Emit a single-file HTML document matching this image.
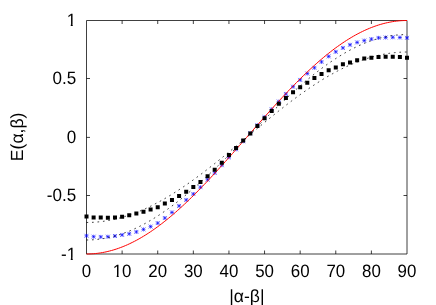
<!DOCTYPE html>
<html><head><meta charset="utf-8"><title>E(alpha,beta)</title>
<style>
html,body{margin:0;padding:0;background:#fff;}
body{width:436px;height:305px;overflow:hidden;position:relative;font-family:"Liberation Sans",sans-serif;}
svg{position:absolute;left:0;top:0;display:block;will-change:transform;}
text{font-family:"Liberation Sans",sans-serif;font-size:17.6px;fill:#000;text-rendering:geometricPrecision;}
</style></head><body>
<svg width="436" height="305" viewBox="0 0 436 305">
<rect x="0" y="0" width="436" height="305" fill="#fff"/>
<path d="M86.5 20.5H407.0V254.0H86.5ZM122.11 254.0v-3.5M122.11 20.5v3.5M157.72 254.0v-3.5M157.72 20.5v3.5M193.33 254.0v-3.5M193.33 20.5v3.5M228.94 254.0v-3.5M228.94 20.5v3.5M264.56 254.0v-3.5M264.56 20.5v3.5M300.17 254.0v-3.5M300.17 20.5v3.5M335.78 254.0v-3.5M335.78 20.5v3.5M371.39 254.0v-3.5M371.39 20.5v3.5M86.5 195.50h3.5M407.0 195.50h-3.5M86.5 137.40h3.5M407.0 137.40h-3.5M86.5 78.50h3.5M407.0 78.50h-3.5" fill="none" stroke="#000" stroke-width="0.75"/>
<path d="M84.50 235.80H88.50M86.50 233.80V237.80M84.54 233.84L88.46 237.76M84.54 237.76L88.46 233.84M91.62 236.70H95.62M93.62 234.70V238.70M91.66 234.74L95.58 238.66M91.66 238.66L95.58 234.74M98.74 236.90H102.74M100.74 234.90V238.90M98.78 234.94L102.70 238.86M98.78 238.86L102.70 234.94M105.87 236.70H109.87M107.87 234.70V238.70M105.91 234.74L109.83 238.66M105.91 238.66L109.83 234.74M112.99 236.00H116.99M114.99 234.00V238.00M113.03 234.04L116.95 237.96M113.03 237.96L116.95 234.04M120.11 234.90H124.11M122.11 232.90V236.90M120.15 232.94L124.07 236.86M120.15 236.86L124.07 232.94M127.23 233.80H131.23M129.23 231.80V235.80M127.27 231.84L131.19 235.76M127.27 235.76L131.19 231.84M134.36 231.90H138.36M136.36 229.90V233.90M134.40 229.94L138.32 233.86M134.40 233.86L138.32 229.94M141.48 229.40H145.48M143.48 227.40V231.40M141.52 227.44L145.44 231.36M141.52 231.36L145.44 227.44M148.60 226.60H152.60M150.60 224.60V228.60M148.64 224.64L152.56 228.56M148.64 228.56L152.56 224.64M155.72 223.10H159.72M157.72 221.10V225.10M155.76 221.14L159.68 225.06M155.76 225.06L159.68 221.14M162.84 218.00H166.84M164.84 216.00V220.00M162.88 216.04L166.80 219.96M162.88 219.96L166.80 216.04M169.97 212.40H173.97M171.97 210.40V214.40M170.01 210.44L173.93 214.36M170.01 214.36L173.93 210.44M177.09 205.90H181.09M179.09 203.90V207.90M177.13 203.94L181.05 207.86M177.13 207.86L181.05 203.94M184.21 199.90H188.21M186.21 197.90V201.90M184.25 197.94L188.17 201.86M184.25 201.86L188.17 197.94M191.33 194.00H195.33M193.33 192.00V196.00M191.37 192.04L195.29 195.96M191.37 195.96L195.29 192.04M198.46 187.20H202.46M200.46 185.20V189.20M198.50 185.24L202.42 189.16M198.50 189.16L202.42 185.24M205.58 179.70H209.58M207.58 177.70V181.70M205.62 177.74L209.54 181.66M205.62 181.66L209.54 177.74M212.70 172.90H216.70M214.70 170.90V174.90M212.74 170.94L216.66 174.86M212.74 174.86L216.66 170.94M219.82 165.21H223.82M221.82 163.21V167.21M219.86 163.25L223.78 167.17M219.86 167.17L223.78 163.25M226.94 157.32H230.94M228.94 155.32V159.32M226.98 155.36L230.90 159.28M226.98 159.28L230.90 155.36M234.07 149.33H238.07M236.07 147.33V151.33M234.11 147.37L238.03 151.29M234.11 151.29L238.03 147.37M241.19 141.28H245.19M243.19 139.28V143.28M241.23 139.32L245.15 143.24M241.23 143.24L245.15 139.32M248.31 133.22H252.31M250.31 131.22V135.22M248.35 131.26L252.27 135.18M248.35 135.18L252.27 131.26M255.43 125.17H259.43M257.43 123.17V127.17M255.47 123.21L259.39 127.13M255.47 127.13L259.39 123.21M262.56 117.18H266.56M264.56 115.18V119.18M262.60 115.22L266.52 119.14M262.60 119.14L266.52 115.22M269.68 109.29H273.68M271.68 107.29V111.29M269.72 107.33L273.64 111.25M269.72 111.25L273.64 107.33M276.80 101.54H280.80M278.80 99.54V103.54M276.84 99.58L280.76 103.50M276.84 103.50L280.76 99.58M283.92 94.00H287.92M285.92 92.00V96.00M283.96 92.04L287.88 95.96M283.96 95.96L287.88 92.04M291.04 86.70H295.04M293.04 84.70V88.70M291.08 84.74L295.00 88.66M291.08 88.66L295.00 84.74M298.17 79.90H302.17M300.17 77.90V81.90M298.21 77.94L302.13 81.86M298.21 81.86L302.13 77.94M305.29 73.50H309.29M307.29 71.50V75.50M305.33 71.54L309.25 75.46M305.33 75.46L309.25 71.54M312.41 67.80H316.41M314.41 65.80V69.80M312.45 65.84L316.37 69.76M312.45 69.76L316.37 65.84M319.53 61.90H323.53M321.53 59.90V63.90M319.57 59.94L323.49 63.86M319.57 63.86L323.49 59.94M326.66 56.40H330.66M328.66 54.40V58.40M326.70 54.44L330.62 58.36M326.70 58.36L330.62 54.44M333.78 51.80H337.78M335.78 49.80V53.80M333.82 49.84L337.74 53.76M333.82 53.76L337.74 49.84M340.90 47.90H344.90M342.90 45.90V49.90M340.94 45.94L344.86 49.86M340.94 49.86L344.86 45.94M348.02 44.80H352.02M350.02 42.80V46.80M348.06 42.84L351.98 46.76M348.06 46.76L351.98 42.84M355.14 42.40H359.14M357.14 40.40V44.40M355.18 40.44L359.10 44.36M355.18 44.36L359.10 40.44M362.27 40.60H366.27M364.27 38.60V42.60M362.31 38.64L366.23 42.56M362.31 42.56L366.23 38.64M369.39 39.10H373.39M371.39 37.10V41.10M369.43 37.14L373.35 41.06M369.43 41.06L373.35 37.14M376.51 37.85H380.51M378.51 35.85V39.85M376.55 35.89L380.47 39.81M376.55 39.81L380.47 35.89M383.63 37.50H387.63M385.63 35.50V39.50M383.67 35.54L387.59 39.46M383.67 39.46L387.59 35.54M390.76 37.30H394.76M392.76 35.30V39.30M390.80 35.34L394.72 39.26M390.80 39.26L394.72 35.34M397.88 37.50H401.88M399.88 35.50V39.50M397.92 35.54L401.84 39.46M397.92 39.46L401.84 35.54M405.00 37.85H409.00M407.00 35.85V39.85M405.04 35.89L408.96 39.81M405.04 39.81L408.96 35.89" fill="none" stroke="#0000ff" stroke-width="0.6"/>
<polyline points="86.50,254.00 88.28,253.98 90.06,253.93 91.84,253.84 93.62,253.72 95.40,253.56 97.18,253.36 98.96,253.13 100.74,252.86 102.53,252.56 104.31,252.23 106.09,251.85 107.87,251.45 109.65,251.01 111.43,250.53 113.21,250.02 114.99,249.48 116.77,248.90 118.55,248.29 120.33,247.64 122.11,246.96 123.89,246.25 125.67,245.50 127.45,244.72 129.23,243.91 131.01,243.06 132.79,242.18 134.57,241.28 136.36,240.33 138.14,239.36 139.92,238.36 141.70,237.32 143.48,236.26 145.26,235.16 147.04,234.04 148.82,232.89 150.60,231.70 152.38,230.49 154.16,229.25 155.94,227.98 157.72,226.69 159.50,225.36 161.28,224.01 163.06,222.64 164.84,221.23 166.62,219.80 168.41,218.35 170.19,216.87 171.97,215.37 173.75,213.84 175.53,212.30 177.31,210.72 179.09,209.13 180.87,207.51 182.65,205.87 184.43,204.22 186.21,202.54 187.99,200.84 189.77,199.12 191.55,197.38 193.33,195.62 195.11,193.85 196.89,192.06 198.68,190.25 200.46,188.43 202.24,186.59 204.02,184.74 205.80,182.87 207.58,180.99 209.36,179.09 211.14,177.18 212.92,175.26 214.70,173.33 216.48,171.38 218.26,169.43 220.04,167.47 221.82,165.49 223.60,163.51 225.38,161.52 227.16,159.53 228.94,157.52 230.72,155.51 232.51,153.50 234.29,151.48 236.07,149.45 237.85,147.43 239.63,145.39 241.41,143.36 243.19,141.32 244.97,139.29 246.75,137.25 248.53,135.21 250.31,133.18 252.09,131.14 253.87,129.11 255.65,127.07 257.43,125.05 259.21,123.02 260.99,121.00 262.77,118.99 264.56,116.98 266.34,114.97 268.12,112.98 269.90,110.99 271.68,109.01 273.46,107.03 275.24,105.07 277.02,103.12 278.80,101.17 280.58,99.24 282.36,97.32 284.14,95.41 285.92,93.51 287.70,91.63 289.48,89.76 291.26,87.91 293.04,86.07 294.82,84.25 296.61,82.44 298.39,80.65 300.17,78.88 301.95,77.12 303.73,75.38 305.51,73.66 307.29,71.96 309.07,70.28 310.85,68.63 312.63,66.99 314.41,65.37 316.19,63.78 317.97,62.20 319.75,60.66 321.53,59.13 323.31,57.63 325.09,56.15 326.88,54.70 328.66,53.27 330.44,51.86 332.22,50.49 334.00,49.14 335.78,47.81 337.56,46.52 339.34,45.25 341.12,44.01 342.90,42.80 344.68,41.61 346.46,40.46 348.24,39.34 350.02,38.24 351.80,37.18 353.58,36.14 355.36,35.14 357.14,34.17 358.93,33.22 360.71,32.32 362.49,31.44 364.27,30.59 366.05,29.78 367.83,29.00 369.61,28.25 371.39,27.54 373.17,26.86 374.95,26.21 376.73,25.60 378.51,25.02 380.29,24.48 382.07,23.97 383.85,23.49 385.63,23.05 387.41,22.65 389.19,22.27 390.98,21.94 392.76,21.64 394.54,21.37 396.32,21.14 398.10,20.94 399.88,20.78 401.66,20.66 403.44,20.57 405.22,20.52 407.00,20.50" fill="none" stroke="#ff0000" stroke-width="1.0"/>
<polyline points="86.50,239.99 88.28,239.97 90.06,239.93 91.84,239.85 93.62,239.74 95.40,239.60 97.18,239.43 98.96,239.22 100.74,238.99 102.53,238.73 104.31,238.43 106.09,238.10 107.87,237.74 109.65,237.36 111.43,236.94 113.21,236.49 114.99,236.01 116.77,235.50 118.55,234.96 120.33,234.39 122.11,233.79 123.89,233.17 125.67,232.51 127.45,231.82 129.23,231.11 131.01,230.36 132.79,229.59 134.57,228.79 136.36,227.96 138.14,227.11 139.92,226.23 141.70,225.32 143.48,224.38 145.26,223.42 147.04,222.43 148.82,221.41 150.60,220.37 152.38,219.30 154.16,218.21 155.94,217.09 157.72,215.95 159.50,214.79 161.28,213.60 163.06,212.39 164.84,211.15 166.62,209.90 168.41,208.62 170.19,207.32 171.97,206.00 173.75,204.65 175.53,203.29 177.31,201.91 179.09,200.50 180.87,199.08 182.65,197.64 184.43,196.18 186.21,194.70 187.99,193.21 189.77,191.69 191.55,190.17 193.33,188.62 195.11,187.06 196.89,185.48 198.68,183.89 200.46,182.29 202.24,180.67 204.02,179.04 205.80,177.39 207.58,175.74 209.36,174.07 211.14,172.39 212.92,170.70 214.70,169.00 216.48,167.29 218.26,165.57 220.04,163.84 221.82,162.11 223.60,160.36 225.38,158.61 227.16,156.85 228.94,155.09 230.72,153.32 232.51,151.55 234.29,149.77 236.07,147.99 237.85,146.20 239.63,144.42 241.41,142.63 243.19,140.84 244.97,139.04 246.75,137.25 248.53,135.46 250.31,133.66 252.09,131.87 253.87,130.08 255.65,128.30 257.43,126.51 259.21,124.73 260.99,122.95 262.77,121.18 264.56,119.41 266.34,117.65 268.12,115.89 269.90,114.14 271.68,112.39 273.46,110.66 275.24,108.93 277.02,107.21 278.80,105.50 280.58,103.80 282.36,102.11 284.14,100.43 285.92,98.76 287.70,97.11 289.48,95.46 291.26,93.83 293.04,92.21 294.82,90.61 296.61,89.02 298.39,87.44 300.17,85.88 301.95,84.33 303.73,82.81 305.51,81.29 307.29,79.80 309.07,78.32 310.85,76.86 312.63,75.42 314.41,74.00 316.19,72.59 317.97,71.21 319.75,69.85 321.53,68.50 323.31,67.18 325.09,65.88 326.88,64.60 328.66,63.35 330.44,62.11 332.22,60.90 334.00,59.71 335.78,58.55 337.56,57.41 339.34,56.29 341.12,55.20 342.90,54.13 344.68,53.09 346.46,52.07 348.24,51.08 350.02,50.12 351.80,49.18 353.58,48.27 355.36,47.39 357.14,46.54 358.93,45.71 360.71,44.91 362.49,44.14 364.27,43.39 366.05,42.68 367.83,41.99 369.61,41.33 371.39,40.71 373.17,40.11 374.95,39.54 376.73,39.00 378.51,38.49 380.29,38.01 382.07,37.56 383.85,37.14 385.63,36.76 387.41,36.40 389.19,36.07 390.98,35.77 392.76,35.51 394.54,35.28 396.32,35.07 398.10,34.90 399.88,34.76 401.66,34.65 403.44,34.57 405.22,34.53 407.00,34.51" fill="none" stroke="#000" stroke-width="0.75" stroke-dasharray="1.7 3.8"/>
<polyline points="86.50,222.48 88.28,222.46 90.06,222.43 91.84,222.36 93.62,222.27 95.40,222.15 97.18,222.01 98.96,221.84 100.74,221.65 102.53,221.43 104.31,221.18 106.09,220.91 107.87,220.62 109.65,220.29 111.43,219.95 113.21,219.57 114.99,219.18 116.77,218.75 118.55,218.31 120.33,217.83 122.11,217.34 123.89,216.82 125.67,216.27 127.45,215.70 129.23,215.11 131.01,214.49 132.79,213.85 134.57,213.19 136.36,212.50 138.14,211.79 139.92,211.06 141.70,210.30 143.48,209.53 145.26,208.73 147.04,207.91 148.82,207.06 150.60,206.20 152.38,205.32 154.16,204.41 155.94,203.48 157.72,202.54 159.50,201.57 161.28,200.59 163.06,199.58 164.84,198.56 166.62,197.51 168.41,196.45 170.19,195.38 171.97,194.28 173.75,193.16 175.53,192.03 177.31,190.89 179.09,189.72 180.87,188.54 182.65,187.35 184.43,186.13 186.21,184.91 187.99,183.67 189.77,182.41 191.55,181.15 193.33,179.86 195.11,178.57 196.89,177.26 198.68,175.94 200.46,174.61 202.24,173.27 204.02,171.92 205.80,170.55 207.58,169.18 209.36,167.79 211.14,166.40 212.92,165.00 214.70,163.59 216.48,162.17 218.26,160.74 220.04,159.31 221.82,157.87 223.60,156.42 225.38,154.97 227.16,153.51 228.94,152.05 230.72,150.58 232.51,149.11 234.29,147.64 236.07,146.16 237.85,144.68 239.63,143.20 241.41,141.71 243.19,140.22 244.97,138.74 246.75,137.25 248.53,135.76 250.31,134.28 252.09,132.79 253.87,131.30 255.65,129.82 257.43,128.34 259.21,126.86 260.99,125.39 262.77,123.92 264.56,122.45 266.34,120.99 268.12,119.53 269.90,118.08 271.68,116.63 273.46,115.19 275.24,113.76 277.02,112.33 278.80,110.91 280.58,109.50 282.36,108.10 284.14,106.71 285.92,105.32 287.70,103.95 289.48,102.58 291.26,101.23 293.04,99.89 294.82,98.56 296.61,97.24 298.39,95.93 300.17,94.64 301.95,93.35 303.73,92.09 305.51,90.83 307.29,89.59 309.07,88.37 310.85,87.15 312.63,85.96 314.41,84.78 316.19,83.61 317.97,82.47 319.75,81.34 321.53,80.22 323.31,79.12 325.09,78.05 326.88,76.99 328.66,75.94 330.44,74.92 332.22,73.91 334.00,72.93 335.78,71.96 337.56,71.02 339.34,70.09 341.12,69.18 342.90,68.30 344.68,67.44 346.46,66.59 348.24,65.77 350.02,64.97 351.80,64.20 353.58,63.44 355.36,62.71 357.14,62.00 358.93,61.31 360.71,60.65 362.49,60.01 364.27,59.39 366.05,58.80 367.83,58.23 369.61,57.68 371.39,57.16 373.17,56.67 374.95,56.19 376.73,55.75 378.51,55.32 380.29,54.93 382.07,54.55 383.85,54.21 385.63,53.88 387.41,53.59 389.19,53.32 390.98,53.07 392.76,52.85 394.54,52.66 396.32,52.49 398.10,52.35 399.88,52.23 401.66,52.14 403.44,52.07 405.22,52.04 407.00,52.02" fill="none" stroke="#000" stroke-width="0.75" stroke-dasharray="1.7 3.8"/>
<path d="M84.50 214.50h4.0v4.0h-4.0zM91.62 215.40h4.0v4.0h-4.0zM98.74 215.60h4.0v4.0h-4.0zM105.87 215.80h4.0v4.0h-4.0zM112.99 215.40h4.0v4.0h-4.0zM120.11 214.70h4.0v4.0h-4.0zM127.23 213.20h4.0v4.0h-4.0zM134.36 211.40h4.0v4.0h-4.0zM141.48 209.70h4.0v4.0h-4.0zM148.60 207.50h4.0v4.0h-4.0zM155.72 205.30h4.0v4.0h-4.0zM162.84 201.60h4.0v4.0h-4.0zM169.97 197.90h4.0v4.0h-4.0zM177.09 193.90h4.0v4.0h-4.0zM184.21 189.80h4.0v4.0h-4.0zM191.33 185.10h4.0v4.0h-4.0zM198.46 179.90h4.0v4.0h-4.0zM205.58 174.20h4.0v4.0h-4.0zM212.70 167.80h4.0v4.0h-4.0zM219.82 160.80h4.0v4.0h-4.0zM226.94 152.90h4.0v4.0h-4.0zM234.07 146.10h4.0v4.0h-4.0zM241.19 138.40h4.0v4.0h-4.0zM248.31 131.40h4.0v4.0h-4.0zM255.43 124.10h4.0v4.0h-4.0zM262.56 116.30h4.0v4.0h-4.0zM269.68 109.00h4.0v4.0h-4.0zM276.80 101.70h4.0v4.0h-4.0zM283.92 96.10h4.0v4.0h-4.0zM291.04 90.20h4.0v4.0h-4.0zM298.17 85.20h4.0v4.0h-4.0zM305.29 80.70h4.0v4.0h-4.0zM312.41 75.90h4.0v4.0h-4.0zM319.53 71.90h4.0v4.0h-4.0zM326.66 68.20h4.0v4.0h-4.0zM333.78 65.40h4.0v4.0h-4.0zM340.90 62.30h4.0v4.0h-4.0zM348.02 60.40h4.0v4.0h-4.0zM355.14 58.20h4.0v4.0h-4.0zM362.27 56.60h4.0v4.0h-4.0zM369.39 55.70h4.0v4.0h-4.0zM376.51 55.10h4.0v4.0h-4.0zM383.63 54.75h4.0v4.0h-4.0zM390.76 54.75h4.0v4.0h-4.0zM397.88 55.10h4.0v4.0h-4.0zM405.00 55.70h4.0v4.0h-4.0z" fill="#000"/>
<defs><clipPath id="c1"><path d="M-30 -20H2V-2.1H-3.56V1H-5.61V-2.1H-30Z"/></clipPath><clipPath id="c10"><path d="M-12 -20H12V1H0.2V-2.1H-3.56V1H-5.61V-2.1H-12Z"/></clipPath></defs>
<text transform="translate(76.2,26.25) scale(0.97,1.02)" text-anchor="end" clip-path="url(#c1)">1</text>
<text transform="translate(76.2,84.25) scale(0.97,1.02)" text-anchor="end">0.5</text>
<text transform="translate(76.2,143.15) scale(0.97,1.02)" text-anchor="end">0</text>
<text transform="translate(76.2,201.25) scale(0.97,1.02)" text-anchor="end">-0.5</text>
<text transform="translate(76.2,259.75) scale(0.97,1.02)" text-anchor="end" clip-path="url(#c1)">-1</text>
<text transform="translate(86.50,276.9) scale(0.96,1.02)" text-anchor="middle">0</text>
<text transform="translate(122.11,276.9) scale(0.96,1.02)" text-anchor="middle" clip-path="url(#c10)">10</text>
<text transform="translate(157.72,276.9) scale(0.96,1.02)" text-anchor="middle">20</text>
<text transform="translate(193.33,276.9) scale(0.96,1.02)" text-anchor="middle">30</text>
<text transform="translate(228.94,276.9) scale(0.96,1.02)" text-anchor="middle">40</text>
<text transform="translate(264.56,276.9) scale(0.96,1.02)" text-anchor="middle">50</text>
<text transform="translate(300.17,276.9) scale(0.96,1.02)" text-anchor="middle">60</text>
<text transform="translate(335.78,276.9) scale(0.96,1.02)" text-anchor="middle">70</text>
<text transform="translate(371.39,276.9) scale(0.96,1.02)" text-anchor="middle">80</text>
<text transform="translate(407.00,276.9) scale(0.96,1.02)" text-anchor="middle">90</text>
<text x="246.9" y="302.1" text-anchor="middle">|&#945;-&#946;|</text>
<text transform="translate(23,136.9) rotate(-90)" text-anchor="middle">E(&#945;,&#946;)</text>
</svg>
</body></html>
